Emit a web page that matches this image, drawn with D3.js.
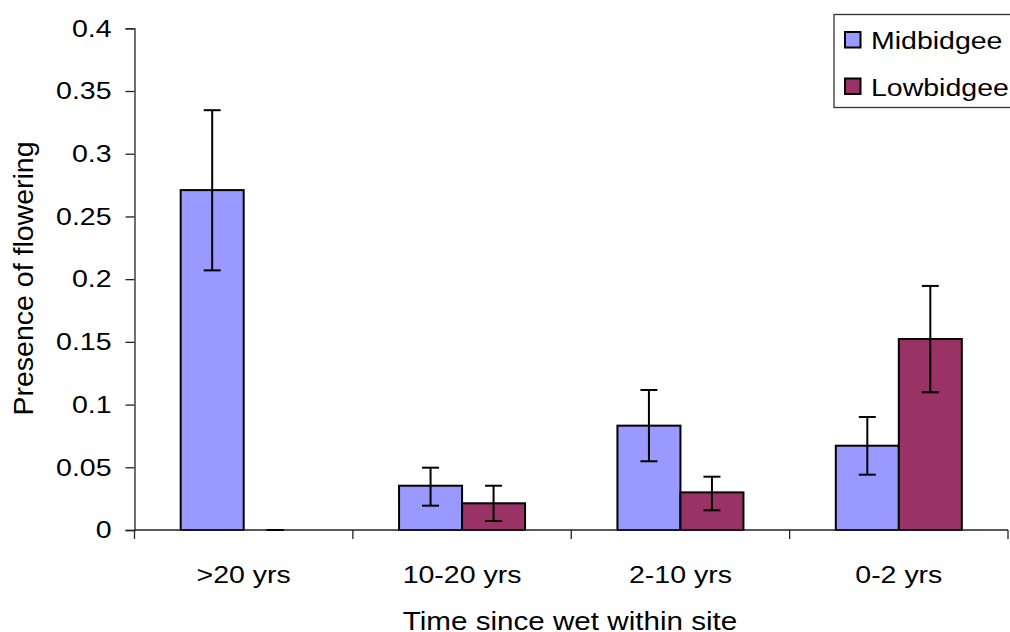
<!DOCTYPE html>
<html>
<head>
<meta charset="utf-8">
<script src="https://cdn.jsdelivr.net/npm/d3@7"></script>
<style>
  body { margin: 0; background: #fff; }
  svg { display: block; font-family: "Liberation Sans", Arial, sans-serif; }
</style>
</head>
<body>
<div id="chart"></div>
<script>
// flowering presence by time since wet, two regions
var categories = [">20 yrs", "10-20 yrs", "2-10 yrs", "0-2 yrs"];
var seriesNames = ["Midbidgee", "Lowbidgee"];
var seriesColors = ["#9999ff", "#993366"];

var midValues = [0.271, 0.0353, 0.0832, 0.0672];
var midLow = [0.207, 0.0194, 0.0548, 0.0441];
var midHigh = [0.3347, 0.0497, 0.1116, 0.0901];

var lowValues = [0, 0.0213, 0.030, 0.1523];
var lowLow = [0, 0.0072, 0.0157, 0.1098];
var lowHigh = [0, 0.0353, 0.0425, 0.1946];

var yTicks = [0, 0.05, 0.1, 0.15, 0.2, 0.25, 0.3, 0.35, 0.4];

var width = 1010;
var height = 632;
var fontSize = 28.5;
var squish = 0.87;

var svg = d3.select("#chart")
    .append("svg")
    .attr("width", width)
    .attr("height", height);

var x = d3.scaleBand()
    .domain(categories)
    .range([134.5, 1008]);

var xSub = d3.scaleBand()
    .domain(seriesNames)
    .range([0, x.bandwidth()])
    .paddingOuter(0.733);

var y = d3.scaleLinear()
    .domain([0, 0.4])
    .range([530, 28.3]);

// build rows per series
var rows = [];
categories.forEach(function(c, i) {
    rows.push({cat: c, s: 0, v: midValues[i], lo: midLow[i], hi: midHigh[i]});
    rows.push({cat: c, s: 1, v: lowValues[i], lo: lowLow[i], hi: lowHigh[i]});
});

// y axis
var yAxis = svg.append("g")
    .attr("transform", "translate(134.5,0)")
    .call(d3.axisLeft(y).tickValues(yTicks).tickSize(9).tickPadding(14)
        .tickFormat(function(d) { return String(+d.toFixed(2)); }));
yAxis.select(".domain").attr("stroke", "#222").attr("stroke-width", 1.3);
yAxis.selectAll(".tick line").attr("stroke", "#222").attr("stroke-width", 1.3);
yAxis.selectAll(".tick text")
    .attr("font-size", fontSize)
    .attr("font-family", "Liberation Sans, Arial, sans-serif")
    .attr("fill", "#000")
    .attr("dy", null)
    .attr("y", 9)
    .attr("transform", "scale(1," + squish + ")");

// bars
svg.append("g")
    .selectAll("rect")
    .data(rows)
    .join("rect")
    .attr("x", function(d) { return x(d.cat) + xSub(seriesNames[d.s]); })
    .attr("width", xSub.bandwidth())
    .attr("y", function(d) { return y(d.v); })
    .attr("height", function(d) { return y(0) - y(d.v); })
    .attr("fill", function(d) { return seriesColors[d.s]; })
    .attr("stroke", "#000")
    .attr("stroke-width", 2);

// x axis
var xAxis = svg.append("g")
    .attr("transform", "translate(0,530)");
xAxis.append("line")
    .attr("x1", x.range()[0]).attr("x2", x.range()[1])
    .attr("stroke", "#222").attr("stroke-width", 1.3);
var bounds = categories.map(function(c) { return x(c); }).concat([x.range()[1]]);
xAxis.selectAll(".xtick")
    .data(bounds)
    .join("line")
    .attr("class", "xtick")
    .attr("x1", function(d) { return d; })
    .attr("x2", function(d) { return d; })
    .attr("y1", 0).attr("y2", 9)
    .attr("stroke", "#222").attr("stroke-width", 1.3);
xAxis.selectAll(".xlab")
    .data(categories)
    .join("text")
    .attr("class", "xlab")
    .attr("text-anchor", "middle")
    .attr("font-size", fontSize)
    .attr("transform", function(d) {
        return "translate(" + (x(d) + x.bandwidth() / 2) + ",52.5) scale(1," + squish + ")";
    })
    .text(function(d) { return d; });

// error bars
var err = svg.append("g")
    .attr("stroke", "#000")
    .attr("stroke-width", 2);
rows.forEach(function(d) {
    var cx = x(d.cat) + xSub(seriesNames[d.s]) + xSub.bandwidth() / 2;
    err.append("line").attr("x1", cx).attr("x2", cx).attr("y1", y(d.lo)).attr("y2", y(d.hi));
    err.append("line").attr("x1", cx - 8.5).attr("x2", cx + 8.5).attr("y1", y(d.lo)).attr("y2", y(d.lo));
    err.append("line").attr("x1", cx - 8.5).attr("x2", cx + 8.5).attr("y1", y(d.hi)).attr("y2", y(d.hi));
});

// axis titles
svg.append("text")
    .attr("text-anchor", "middle")
    .attr("font-size", 29.6)
    .attr("transform", "translate(570,629.5) scale(1," + squish + ")")
    .text("Time since wet within site");

svg.append("text")
    .attr("text-anchor", "middle")
    .attr("font-size", fontSize)
    .attr("transform", "translate(33,278.5) rotate(-90)")
    .text("Presence of flowering");

// legend
var legend = svg.append("g");
legend.append("rect")
    .attr("x", 834).attr("y", 14.5)
    .attr("width", 190).attr("height", 93)
    .attr("fill", "#fff")
    .attr("stroke", "#333").attr("stroke-width", 1.3);
var item = legend.selectAll(".item")
    .data(seriesNames)
    .join("g")
    .attr("class", "item")
    .attr("transform", function(d, i) { return "translate(845," + (32 + i * 46.5) + ")"; });
item.append("rect")
    .attr("width", 15.5).attr("height", 15.5)
    .attr("fill", function(d, i) { return seriesColors[i]; })
    .attr("stroke", "#000").attr("stroke-width", 2);
item.append("text")
    .attr("font-size", fontSize)
    .attr("transform", "translate(26,17) scale(1," + squish + ")")
    .text(function(d) { return d; });
</script>
</body>
</html>
